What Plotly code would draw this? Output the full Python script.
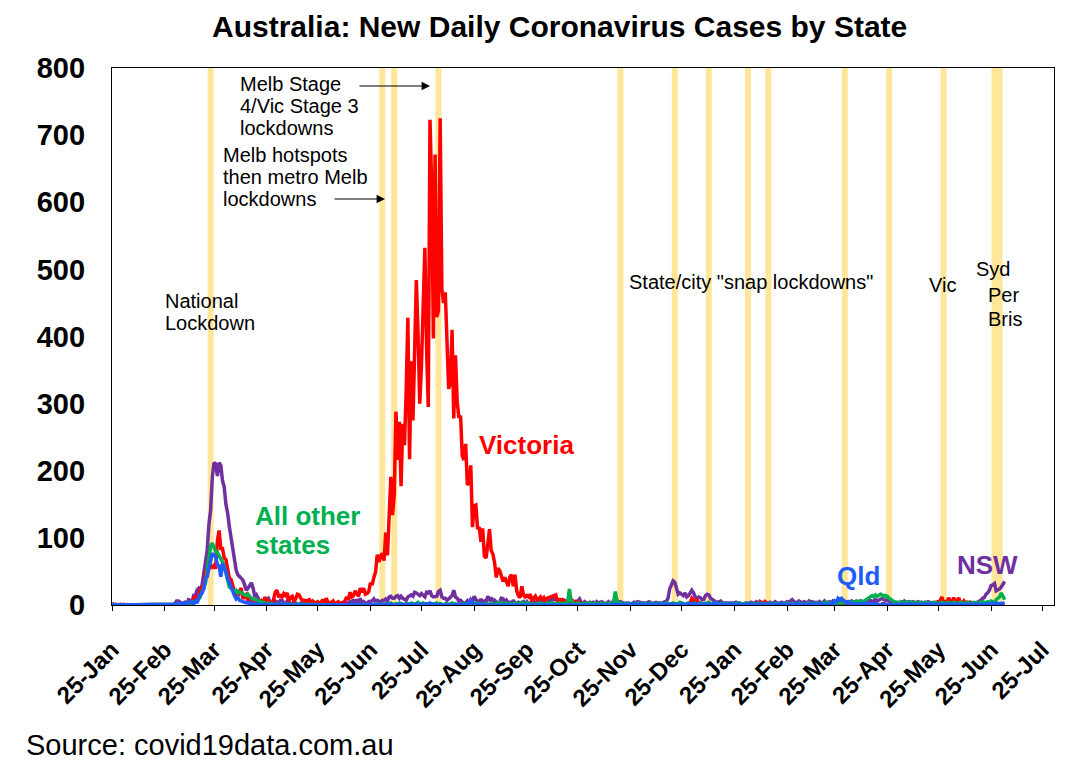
import pandas as pd
import plotly.graph_objects as go

START = "2020-01-25"

# daily new cases, 25-Jan-2020 .. 3-Jul-2021, one month per line
vic = [
    1, 0, 0, 0, 1, 1, 0,  # Jan 20
    1, 0, 0, 0, 0, 0, 0, 0, 0, 0, 0, 0, 0, 0, 0, 0, 0, 0, 0, 0, 0, 0, 0, 0, 0, 0, 0, 0, 1,
    1, 0, 1, 0, 1, 1, 1, 0, 2, 3, 0, 6, 9, 13, 8, 14, 23, 27, 26, 51, 49, 67, 56, 56, 59, 54, 96, 111, 84, 84, 70,
    68, 50, 40, 38, 30, 20, 17, 13, 21, 25, 9, 14, 16, 4, 11, 6, 3, 6, 6, 2, 2, 6, 3, 12, 4, 6, 3, 2, 8, 19,
    22, 13, 14, 12, 17, 14, 18, 6, 11, 13, 6, 9, 16, 15, 10, 7, 7, 6, 7, 8, 2, 6, 4, 3, 5, 3, 4, 8, 3, 10, 4,
    3, 4, 6, 1, 3, 5, 3, 3, 2, 6, 12, 8, 19, 12, 14, 21, 18, 13, 25, 19, 25, 16, 17, 20, 33, 30, 41, 49, 75, 64,
    73, 77, 66, 108, 74, 127, 191, 134, 165, 288, 216, 273, 177, 270, 238, 317, 428, 217, 363, 275,
    374, 484, 403, 300, 357, 459, 532, 384, 295, 723, 627,
    397, 671, 429, 439, 725, 471, 450, 466, 394, 322, 331, 410, 278, 372, 303, 279, 282, 222, 216, 240,
    179, 182, 208, 116, 148, 149, 113, 116, 94, 114, 73,
    70, 90, 113, 81, 76, 63, 41, 55, 51, 43, 35, 41, 35, 28, 42, 45, 28, 45, 21, 14, 11, 28, 15, 12, 14, 12, 16, 5, 10, 13,
    8, 9, 12, 8, 11, 6, 10, 11, 12, 12, 13, 15, 4, 10, 2, 9, 1, 7, 1, 3, 1, 5, 1, 7, 0, 0, 3, 0, 1, 0, 0,
    0, 0, 1, 0, 0, 0, 0, 0, 0, 0, 0, 0, 1, 0, 0, 0, 0, 0, 0, 0, 0, 0, 0, 0, 0, 1, 0, 0, 0, 0,
    0, 1, 0, 0, 0, 0, 1, 0, 0, 0, 0, 1, 0, 0, 0, 0, 0, 1, 0, 0, 0, 1, 0, 0, 0, 1, 0, 0, 0, 3, 10,
    7, 3, 8, 3, 3, 0, 1, 1, 2, 1, 0, 1, 0, 1, 1, 0, 1, 1, 0, 1, 0, 0, 1, 1, 0, 0, 1, 0, 1, 0, 0,  # Jan 21
    0, 1, 1, 1, 1, 0, 0, 1, 5, 3, 1, 5, 2, 1, 2, 1, 1, 0, 0, 0, 1, 0, 0, 0, 0, 1, 0, 0,
    0, 1, 0, 0, 2, 1, 1, 0, 0, 1, 0, 1, 0, 2, 1, 0, 1, 1, 0, 0, 1, 1, 2, 0, 0, 1, 1, 0, 1, 0, 1,
    2, 1, 0, 1, 1, 0, 1, 2, 1, 0, 1, 0, 2, 1, 0, 1, 1, 0, 1, 1, 0, 2, 1, 1, 0, 1, 1, 2, 1, 0,
    1, 0, 1, 1, 0, 1, 1, 0, 1, 0, 1, 1, 0, 2, 1, 0, 1, 1, 0, 1, 1, 0, 0, 4, 5, 6, 12, 4, 5, 2, 11,
    4, 4, 11, 4, 5, 11, 2, 3, 6, 2, 4, 4, 2, 1, 1, 2, 0, 1, 2, 1, 0, 1, 1, 0, 0, 0, 1, 0, 0, 0,
    0, 0, 0,
]

nsw = [
    3, 0, 1, 0, 0, 0, 0,
    0, 0, 0, 0, 0, 0, 0, 0, 0, 0, 0, 0, 0, 0, 0, 0, 0, 0, 0, 0, 0, 0, 0, 0, 0, 0, 0, 0, 1,
    1, 2, 6, 6, 4, 3, 1, 4, 2, 8, 7, 3, 14, 14, 22, 25, 22, 30, 45, 62, 82, 120, 141, 191, 212, 210, 192, 212, 208, 185, 176,
    150, 137, 117, 100, 82, 70, 52, 45, 42, 40, 37, 30, 22, 25, 30, 33, 25, 12, 15, 10, 5, 5, 3, 6, 8, 10, 4, 3, 3, 6,
    4, 3, 7, 7, 3, 1, 6, 3, 2, 2, 6, 3, 1, 1, 3, 3, 5, 4, 2, 3, 3, 1, 2, 1, 2, 2, 4, 1, 1, 2, 4,
    3, 2, 3, 2, 1, 1, 2, 3, 4, 2, 1, 4, 5, 3, 8, 4, 8, 3, 10, 2, 5, 3, 2, 5, 5, 6, 9, 5, 7, 5,
    4, 7, 7, 9, 6, 12, 13, 10, 10, 13, 14, 10, 13, 10, 9, 7, 12, 14, 15, 13, 19, 18, 16, 14, 17, 15, 12, 19, 18, 21, 14,
    12, 12, 13, 20, 22, 12, 10, 10, 7, 9, 12, 14, 22, 12, 10, 6, 7, 4, 2, 3, 6, 1, 8, 5, 13, 8, 6, 4, 9, 4, 6,
    5, 13, 8, 11, 3, 7, 4, 2, 5, 10, 9, 3, 7, 4, 4, 1, 7, 3, 2, 4, 3, 3, 5, 2, 5, 1, 3, 5, 6, 3,
    2, 6, 8, 5, 5, 6, 4, 3, 9, 7, 9, 8, 7, 6, 5, 8, 7, 4, 4, 2, 1, 6, 3, 2, 6, 9, 3, 1, 5, 3, 2,
    4, 3, 4, 2, 5, 3, 4, 5, 3, 3, 2, 5, 3, 4, 6, 2, 7, 3, 5, 4, 3, 2, 3, 3, 2, 2, 4, 3, 5, 4,
    4, 3, 3, 2, 4, 5, 3, 2, 3, 4, 3, 3, 2, 3, 5, 5, 10, 24, 30, 36, 34, 22, 16, 18, 15, 14, 18, 12, 14, 18, 22,
    18, 12, 10, 12, 11, 8, 8, 14, 16, 15, 10, 8, 6, 5, 4, 5, 6, 3, 3, 3, 2, 3, 3, 2, 3, 4, 2, 3, 2, 1, 2,
    3, 2, 3, 4, 2, 3, 5, 2, 3, 4, 2, 3, 3, 2, 4, 3, 2, 5, 3, 2, 3, 4, 2, 3, 5, 4, 6, 8,
    5, 4, 3, 6, 4, 3, 5, 4, 3, 6, 4, 5, 3, 4, 2, 5, 3, 4, 6, 3, 4, 5, 3, 6, 4, 5, 3, 4, 6, 5, 4,
    5, 3, 4, 6, 4, 5, 3, 4, 6, 5, 4, 6, 5, 4, 7, 5, 6, 8, 6, 7, 9, 10, 8, 7, 8, 6, 5, 4, 5, 3,
    4, 3, 5, 4, 6, 4, 3, 5, 4, 5, 3, 4, 5, 3, 4, 2, 4, 3, 5, 4, 3, 4, 3, 4, 5, 4, 3, 4, 3, 2, 4,
    3, 4, 3, 2, 4, 3, 4, 2, 3, 4, 3, 2, 4, 3, 2, 3, 4, 5, 7, 10, 11, 16, 18, 22, 29, 30, 32, 21, 22, 24,
    27, 31, 35,
]

qld = [
    0, 0, 0, 0, 1, 0, 1,
    1, 0, 0, 0, 0, 0, 0, 0, 0, 0, 0, 0, 0, 0, 0, 0, 0, 0, 0, 1, 0, 0, 0, 0, 0, 0, 0, 0, 1,
    0, 1, 1, 2, 1, 1, 3, 1, 2, 3, 5, 3, 2, 6, 3, 10, 16, 18, 25, 40, 42, 55, 67, 77, 74, 72, 60, 58, 42, 62, 55,
    50, 40, 33, 25, 18, 14, 9, 11, 7, 6, 5, 4, 3, 4, 2, 3, 2, 1, 2, 1, 0, 1, 0, 1, 0, 0, 1, 0, 1, 0,
    1, 0, 1, 0, 0, 1, 0, 0, 0, 0, 1, 0, 0, 1, 0, 0, 0, 0, 1, 0, 0, 0, 0, 1, 0, 1, 0, 0, 0, 0, 0,
    0, 1, 0, 0, 0, 0, 0, 1, 0, 0, 0, 0, 0, 0, 0, 0, 1, 0, 0, 0, 0, 0, 0, 0, 1, 0, 0, 0, 0, 0,
    0, 0, 1, 0, 0, 0, 1, 0, 0, 0, 1, 0, 1, 0, 0, 0, 0, 1, 0, 0, 0, 1, 0, 0, 0, 0, 1, 2, 0, 3, 1,
    0, 1, 0, 0, 1, 0, 0, 0, 0, 0, 1, 0, 0, 0, 0, 0, 0, 0, 0, 0, 1, 3, 6, 3, 1, 0, 1, 0, 1, 0, 0,
    0, 0, 0, 1, 0, 0, 0, 1, 0, 0, 0, 0, 0, 0, 0, 0, 0, 1, 0, 0, 0, 0, 0, 0, 1, 0, 0, 0, 0, 0,
    1, 0, 0, 0, 1, 0, 0, 1, 0, 0, 0, 1, 0, 0, 0, 0, 1, 0, 0, 0, 1, 0, 0, 1, 0, 0, 0, 0, 1, 0, 1,
    0, 1, 0, 0, 1, 0, 0, 1, 0, 1, 0, 0, 1, 0, 2, 0, 1, 0, 1, 1, 0, 0, 1, 0, 1, 0, 1, 0, 0, 1,
    0, 1, 0, 0, 1, 1, 0, 1, 0, 0, 1, 2, 1, 0, 1, 1, 1, 2, 1, 1, 2, 1, 0, 1, 2, 1, 0, 1, 2, 1, 2,
    2, 1, 2, 1, 1, 1, 2, 1, 2, 1, 1, 1, 3, 2, 1, 2, 1, 0, 1, 2, 1, 2, 1, 0, 1, 1, 2, 1, 0, 1, 1,
    1, 2, 0, 1, 0, 1, 1, 0, 2, 1, 1, 0, 1, 2, 1, 1, 0, 1, 0, 1, 2, 1, 0, 1, 1, 2, 1, 0,
    1, 1, 2, 1, 1, 2, 1, 0, 1, 1, 2, 1, 1, 0, 1, 2, 1, 1, 0, 1, 2, 2, 2, 3, 6, 4, 10, 8, 10, 7, 4,
    3, 5, 2, 1, 1, 2, 1, 2, 1, 1, 2, 3, 2, 1, 1, 2, 1, 2, 1, 1, 0, 1, 2, 1, 1, 2, 1, 0, 1, 1,
    1, 0, 1, 1, 1, 0, 1, 2, 1, 0, 1, 1, 0, 1, 1, 0, 1, 1, 2, 0, 1, 1, 0, 1, 1, 0, 1, 0, 1, 1, 0,
    1, 0, 1, 0, 1, 1, 0, 1, 0, 1, 0, 1, 1, 0, 0, 1, 0, 1, 1, 0, 1, 1, 2, 1, 2, 1, 2, 3, 2, 2,
    3, 2, 3,
]

others = [
    0, 0, 0, 0, 0, 0, 0,
    1, 1, 0, 0, 0, 0, 0, 0, 0, 0, 0, 0, 0, 0, 0, 0, 0, 0, 0, 0, 0, 0, 0, 0, 0, 0, 0, 0, 1,
    0, 1, 1, 2, 1, 1, 1, 2, 1, 3, 2, 3, 5, 4, 7, 9, 12, 20, 25, 33, 50, 70, 88, 92, 86, 80, 78, 74, 68, 64, 58,
    48, 40, 27, 25, 22, 20, 22, 18, 20, 19, 17, 15, 14, 16, 12, 10, 9, 8, 7, 6, 5, 4, 4, 3, 2, 3, 2, 2, 1, 1,
    1, 0, 1, 0, 0, 1, 0, 0, 1, 0, 0, 0, 1, 0, 0, 0, 0, 0, 0, 0, 1, 0, 0, 0, 0, 0, 1, 0, 0, 0, 0,
    0, 0, 1, 0, 0, 0, 0, 0, 1, 0, 0, 0, 0, 1, 0, 0, 0, 0, 1, 0, 0, 1, 0, 0, 1, 0, 0, 2, 0, 1,
    1, 0, 1, 2, 0, 1, 3, 1, 0, 2, 1, 3, 2, 1, 0, 2, 1, 1, 3, 2, 1, 2, 4, 2, 1, 3, 1, 2, 1, 2, 1,
    2, 1, 3, 1, 2, 1, 0, 2, 1, 1, 2, 3, 1, 2, 1, 0, 1, 2, 1, 2, 1, 0, 1, 2, 1, 3, 1, 2, 1, 1, 2,
    1, 2, 1, 3, 2, 1, 2, 1, 4, 2, 1, 2, 3, 1, 2, 1, 2, 3, 2, 1, 2, 4, 2, 1, 3, 1, 2, 1, 2, 1,
    2, 1, 3, 2, 1, 2, 3, 1, 2, 4, 2, 1, 2, 3, 2, 1, 3, 2, 4, 24, 6, 3, 2, 1, 3, 2, 1, 2, 1, 3, 2,
    3, 2, 1, 3, 2, 1, 2, 3, 1, 2, 1, 2, 3, 1, 4, 20, 5, 3, 2, 3, 2, 1, 3, 2, 1, 2, 1, 2, 3, 1,
    2, 1, 3, 2, 1, 2, 3, 2, 1, 2, 3, 1, 2, 1, 2, 3, 2, 1, 2, 3, 2, 1, 2, 4, 3, 2, 1, 2, 3, 2, 1,
    2, 3, 1, 2, 3, 2, 1, 2, 3, 4, 2, 1, 2, 3, 2, 1, 2, 1, 3, 2, 1, 2, 1, 2, 1, 2, 3, 1, 2, 1, 2,
    3, 2, 1, 2, 1, 2, 1, 2, 3, 1, 2, 1, 2, 1, 3, 2, 1, 2, 1, 2, 1, 2, 1, 2, 3, 1, 2, 1,
    2, 1, 2, 3, 1, 2, 1, 2, 1, 3, 2, 1, 2, 3, 2, 1, 2, 3, 2, 4, 3, 2, 3, 2, 3, 2, 4, 3, 2, 3, 4,
    3, 4, 5, 3, 4, 5, 6, 5, 4, 6, 5, 7, 9, 11, 13, 14, 12, 15, 13, 14, 16, 15, 12, 14, 13, 10, 8, 6, 5, 4,
    4, 3, 5, 4, 3, 4, 5, 3, 4, 3, 4, 3, 2, 4, 3, 2, 3, 4, 3, 2, 3, 2, 4, 3, 2, 3, 4, 3, 2, 3, 4,
    3, 2, 4, 3, 2, 3, 4, 2, 3, 2, 4, 3, 2, 3, 4, 3, 2, 4, 3, 5, 4, 3, 5, 4, 6, 5, 4, 8, 10, 12,
    18, 12, 8,
]

# lockdown dates (centre of each shaded band)
lockdowns = [
    "2020-03-23", "2020-07-02", "2020-07-09", "2020-08-04", "2020-11-19",
    "2020-12-21", "2021-01-10", "2021-02-02", "2021-02-14", "2021-03-31",
    "2021-04-26", "2021-05-28", "2021-06-27", "2021-06-30",
]

FONT = "Liberation Sans, Arial, sans-serif"

# the page body adds an 8px margin, so the figure is drawn 8px in from the window
OFF = 8
W, H = 1082 - OFF, 771 - OFF
# plot area in window pixels
L, R, T, B = 112, 1054, 68, 605


def px(x):
    return (x - L) / (R - L)


def py(y):
    return (B - y) / (B - T)


fig = go.Figure()

series = [
    ("NSW", nsw, "#7030A0"),
    ("Victoria", vic, "#FF0000"),
    ("All other states", others, "#00B050"),
    ("Qld", qld, "#1F5CFF"),
]
for name, vals, col in series:
    dates = pd.date_range(START, periods=len(vals), freq="D")
    fig.add_trace(go.Scatter(x=dates, y=vals, mode="lines", name=name,
                             line=dict(color=col, width=3.5)))

half = pd.Timedelta(hours=42)
for d in lockdowns:
    c = pd.Timestamp(d)
    fig.add_vrect(x0=c - half, x1=c + half, fillcolor="#FFE699", opacity=1,
                  line_width=0, layer="below")

notes = [
    # text, x, y (window pixels), size, colour, bold, anchor
    ("Australia: New Daily Coronavirus Cases by State", 559, 27, 30, "black", True, "center"),
    ("National", 163, 301, 20, "black", False, "left"),
    ("Lockdown", 163, 323, 20, "black", False, "left"),
    ("Melb Stage", 238, 84, 20, "black", False, "left"),
    ("4/Vic Stage 3", 238, 106, 20, "black", False, "left"),
    ("lockdowns", 238, 128, 20, "black", False, "left"),
    ("Melb hotspots", 221, 155, 20, "black", False, "left"),
    ("then metro Melb", 221, 177, 20, "black", False, "left"),
    ("lockdowns", 221, 199, 20, "black", False, "left"),
    ("State/city \"snap lockdowns\"", 627, 282, 20, "black", False, "left"),
    ("Vic", 927, 285, 20, "black", False, "left"),
    ("Syd", 974, 269, 20, "black", False, "left"),
    ("Per", 986, 295, 20, "black", False, "left"),
    ("Bris", 986, 319, 20, "black", False, "left"),
    ("Victoria", 477, 445, 26, "#FF0000", True, "left"),
    ("All other", 253, 516, 26, "#00B050", True, "left"),
    ("states", 253, 545, 26, "#00B050", True, "left"),
    ("Qld", 835, 576, 26, "#1F5CFF", True, "left"),
    ("NSW", 955, 565, 26, "#7030A0", True, "left"),
    ("Source: covid19data.com.au", 24, 745, 29, "black", False, "left"),
]
for text, x, y, size, col, bold, anchor in notes:
    fig.add_annotation(text=text, x=px(x), y=py(y), xref="paper", yref="paper",
                       xanchor=anchor, yanchor="middle", showarrow=False,
                       font=dict(family=FONT, size=size, color=col,
                                 weight="bold" if bold else "normal"))

# arrows pointing at the Melbourne lockdown bands
for x_head, y_head, length in [(430, 86, 72), (385, 199, 52)]:
    fig.add_annotation(text="", x=px(x_head), y=py(y_head), xref="paper", yref="paper",
                       ax=-length, ay=0, showarrow=True, arrowhead=2, arrowsize=1.4,
                       arrowwidth=1.2, arrowcolor="black")

fig.update_layout(
    width=W, height=H,
    margin=dict(l=L - OFF, r=W - (R - OFF), t=T - OFF, b=H - (B - OFF)),
    paper_bgcolor="white", plot_bgcolor="white",
    showlegend=False,
    font=dict(family=FONT, color="black"),
)
fig.update_xaxes(
    type="date", range=["2020-01-25", "2021-08-01"],
    tick0="2020-01-25", dtick="M1", tickformat="%d-%b", tickangle=-45,
    tickfont=dict(family=FONT, size=24, color="black", weight="bold"),
    ticks="outside", ticklen=5, tickcolor="black", ticklabelstandoff=15,
    showline=True, linecolor="black", linewidth=1.3, mirror=True, showgrid=False,
    zeroline=False,
)
fig.update_yaxes(
    range=[0, 800], dtick=100,
    tickfont=dict(family=FONT, size=29, color="black", weight="bold"),
    ticks="", ticklabelstandoff=20,
    showline=True, linecolor="black", linewidth=1.3, mirror=True, showgrid=False,
    zeroline=False,
)

fig.write_html("out.html")
